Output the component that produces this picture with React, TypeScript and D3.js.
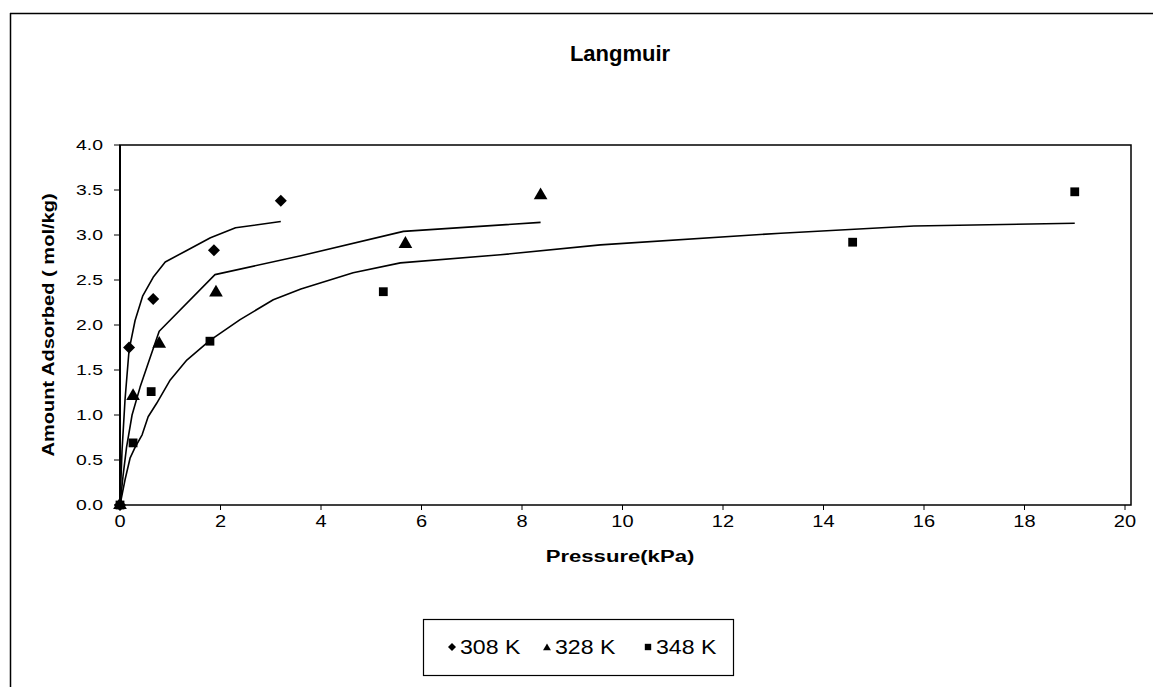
import React from "react";
import * as d3 from "d3";

// measured points, [pressure kPa, amount mol/kg]
const pts308: [number, number][] = [[0, 0], [0.18, 1.75], [0.66, 2.29], [1.87, 2.83], [3.2, 3.38]];
const pts328: [number, number][] = [[0, 0], [0.26, 1.21], [0.78, 1.79], [1.91, 2.36], [5.68, 2.9], [8.37, 3.44]];
const pts348: [number, number][] = [[0, 0], [0.26, 0.69], [0.62, 1.26], [1.79, 1.82], [5.24, 2.37], [14.58, 2.92], [19.0, 3.48]];

// Langmuir fit lines
const fit308: [number, number][] = [[0, 0], [0.04, 0.6], [0.1, 1.17], [0.18, 1.72], [0.3, 2.05], [0.45, 2.32], [0.66, 2.53], [0.9, 2.7], [1.3, 2.82], [1.8, 2.97], [2.3, 3.08], [3.2, 3.15]];
const fit328: [number, number][] = [[0, 0], [0.06, 0.32], [0.13, 0.64], [0.24, 1.0], [0.4, 1.31], [0.6, 1.64], [0.78, 1.93], [1.89, 2.56], [3.6, 2.77], [5.64, 3.04], [8.37, 3.14]];
const fit348: [number, number][] = [[0, 0], [0.1, 0.28], [0.2, 0.52], [0.3, 0.64], [0.44, 0.78], [0.56, 0.98], [0.73, 1.13], [1.0, 1.39], [1.33, 1.61], [1.79, 1.83], [2.39, 2.06], [3.05, 2.28], [3.6, 2.4], [4.64, 2.58], [5.58, 2.69], [7.57, 2.78], [9.56, 2.89], [13.15, 3.02], [15.8, 3.1], [19.0, 3.13]];

const xTicks = [0, 2, 4, 6, 8, 10, 12, 14, 16, 18, 20];
const yTicks = [0, 0.5, 1, 1.5, 2, 2.5, 3, 3.5, 4];
const legendLabels = ["308 K", "328 K", "348 K"];

const W = 1153;
const H = 687;
const font = "'Liberation Sans', Arial, sans-serif";

const x = d3.scaleLinear().domain([0, 20]).range([120, 1125]);
const y = d3.scaleLinear().domain([0, 4]).range([505, 145]);

const line = d3
  .line<[number, number]>()
  .x((d) => x(d[0]))
  .y((d) => y(d[1]))
  .curve(d3.curveLinear);

// wide diamond like the Excel marker
const diamond = (r: number) => `M0,${-r}L${r},0L0,${r}L${-r},0Z`;
const marker = (i: number, r: number) => {
  if (i === 0) return diamond(r);
  if (i === 1) return d3.symbol().type(d3.symbolTriangle).size(r * r * 3)() || "";
  return `M${-r * 0.8},${-r * 0.8}H${r * 0.8}V${r * 0.8}H${-r * 0.8}Z`;
};

export default function App() {
  const series = [pts308, pts328, pts348];
  const fits = [fit308, fit328, fit348];
  const plotRight = 1131;
  const legendX = [452, 547, 648];
  const sx = 1.25;

  return (
    <svg
      width={W}
      height={H}
      style={{ position: "absolute", left: 0, top: 0, background: "#fff" }}
      fontFamily={font}
    >
      {/* outer chart frame */}
      <line x1={10.5} y1={13} x2={10.5} y2={H} stroke="#000" strokeWidth={1.5} />
      <line x1={10} y1={13.5} x2={W} y2={13.5} stroke="#000" strokeWidth={1.5} />

      <text x={620} y={61} textAnchor="middle" fontSize={22} fontWeight="bold">
        Langmuir
      </text>

      {/* plot area */}
      <rect x={x(0)} y={y(4)} width={plotRight - x(0)} height={y(0) - y(4)} fill="none" stroke="#000" strokeWidth={1.5} />
      <line x1={x(0)} y1={y(4)} x2={x(0)} y2={y(0)} stroke="#000" strokeWidth={2} />

      {yTicks.map((t) => (
        <g key={"y" + t}>
          <line x1={x(0) - 6} x2={x(0)} y1={y(t)} y2={y(t)} stroke="#000" />
          <text transform={`translate(103,${y(t)}) scale(${sx},1)`} dy="0.35em" textAnchor="end" fontSize={15.5}>
            {t.toFixed(1)}
          </text>
        </g>
      ))}
      {xTicks.map((t) => (
        <g key={"x" + t}>
          <line x1={x(t)} x2={x(t)} y1={y(0)} y2={y(0) + 5} stroke="#000" />
          <text transform={`translate(${x(t)},${y(0) + 22}) scale(${sx},1)`} textAnchor="middle" fontSize={16}>
            {t}
          </text>
        </g>
      ))}

      <text
        transform={`translate(48,${(y(0) + y(4)) / 2}) rotate(-90) scale(1.18,1)`}
        textAnchor="middle"
        dy="0.35em"
        fontSize={17}
        fontWeight="bold"
      >
        Amount Adsorbed ( mol/kg)
      </text>
      <text transform={`translate(620,562) scale(1.3,1)`} textAnchor="middle" fontSize={17} fontWeight="bold">
        Pressure(kPa)
      </text>

      {fits.map((f, i) => (
        <path key={"f" + i} d={line(f) || ""} fill="none" stroke="#000" strokeWidth={1.6} strokeLinejoin="round" />
      ))}

      {series.map((s, i) =>
        s.map((d, j) => (
          <path
            key={`p${i}-${j}`}
            transform={`translate(${x(d[0])},${y(d[1])})`}
            d={marker(i, i === 0 ? 6 : i === 1 ? 5.2 : 5.5)}
            fill="#000"
          />
        ))
      )}

      {/* legend */}
      <rect x={423.5} y={619.5} width={310} height={56} fill="#fff" stroke="#000" strokeWidth={1.2} />
      {legendLabels.map((l, i) => (
        <g key={l}>
          <path transform={`translate(${legendX[i]},${i === 1 ? 648 : 647})`} d={marker(i, i === 1 ? 3 : 4)} fill="#000" />
          <text transform={`translate(${legendX[i] + 8},647) scale(1.1,1)`} dy="0.35em" fontSize={21}>
            {l}
          </text>
        </g>
      ))}
    </svg>
  );
}
